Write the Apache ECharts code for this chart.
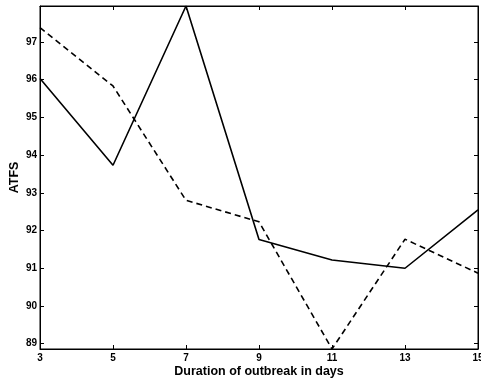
<!DOCTYPE html>
<html>
<head>
<meta charset="utf-8">
<script src="https://cdn.jsdelivr.net/npm/echarts@6/dist/echarts.min.js"></script>
<style>html,body{margin:0;padding:0;background:#fff}#c{width:481px;height:388px}</style>
</head>
<body>
<div id="c"></div>
<script>
const days = [3, 5, 7, 9, 11, 13, 15];
const solidValues = [96.03, 93.73, 97.95, 91.76, 91.22, 91.0, 92.55];
const dashedValues = [97.38, 95.83, 92.8, 92.23, 88.86, 91.77, 90.87];
const xTicks = [3, 5, 7, 9, 11, 13, 15];
const yTicks = [89, 90, 91, 92, 93, 94, 95, 96, 97];
const xTitle = 'Duration of outbreak in days';
const yTitle = 'ATFS';

const font = 'Liberation Sans, Arial, sans-serif';
const chart = echarts.init(document.getElementById('c'), null, {renderer: 'canvas'});
const toPairs = v => days.map((d, i) => [d, v[i]]);
const lineStyleAxis = {color: '#000', width: 1};
chart.setOption({
  animation: false,
  grid: {left: 40, right: 3, top: 6, bottom: 39, show: true, borderColor: '#000', borderWidth: 1, containLabel: false, outerBoundsMode: 'none'},
  xAxis: [{
    type: 'value', min: 3, max: 15,
    axisLine: {show: true, lineStyle: lineStyleAxis},
    axisTick: {show: true, inside: true, length: 4, lineStyle: lineStyleAxis, customValues: xTicks},
    axisLabel: {show: true, margin: 4, color: '#000', fontFamily: font, fontWeight: 'bold', fontSize: 10, customValues: xTicks},
    splitLine: {show: false},
    name: xTitle, nameLocation: 'middle', nameGap: 16.5, nameMoveOverlap: false,
    nameTextStyle: {color: '#000', fontFamily: font, fontWeight: 'bold', fontSize: 12.5}
  }, {
    type: 'value', min: 3, max: 15, position: 'top',
    axisLine: {show: true, lineStyle: lineStyleAxis},
    axisTick: {show: true, inside: true, length: 4, lineStyle: lineStyleAxis, customValues: xTicks},
    axisLabel: {show: false}, splitLine: {show: false}
  }],
  yAxis: [{
    type: 'value', min: 88.86, max: 97.95,
    axisLine: {show: true, lineStyle: lineStyleAxis},
    axisTick: {show: true, inside: true, length: 4, lineStyle: lineStyleAxis, customValues: yTicks},
    axisLabel: {show: true, margin: 3, color: '#000', fontFamily: font, fontWeight: 'bold', fontSize: 10, customValues: yTicks},
    splitLine: {show: false},
    name: yTitle, nameLocation: 'middle', nameGap: 19, nameMoveOverlap: false,
    nameTextStyle: {color: '#000', fontFamily: font, fontWeight: 'bold', fontSize: 12.5}
  }, {
    type: 'value', min: 88.86, max: 97.95, position: 'right',
    axisLine: {show: true, lineStyle: lineStyleAxis},
    axisTick: {show: true, inside: true, length: 4, lineStyle: lineStyleAxis, customValues: yTicks},
    axisLabel: {show: false}, splitLine: {show: false}
  }],
  series: [{
    type: 'line', data: toPairs(solidValues), showSymbol: false, symbol: 'none',
    lineStyle: {color: '#000', width: 1.6, type: 'solid'}
  }, {
    type: 'line', data: toPairs(dashedValues), showSymbol: false, symbol: 'none',
    lineStyle: {color: '#000', width: 1.6, type: [6, 4]}
  }]
});
</script>
</body>
</html>
